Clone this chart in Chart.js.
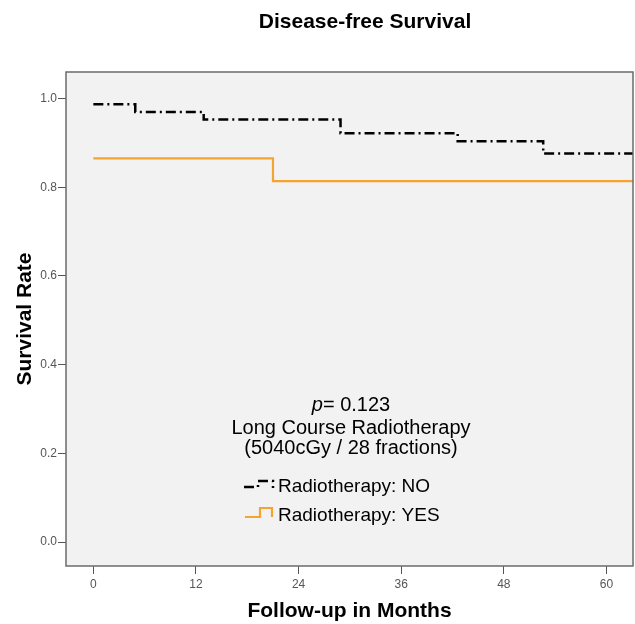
<!DOCTYPE html>
<html>
<head>
<meta charset="utf-8">
<script src="https://cdn.jsdelivr.net/npm/chart.js@4.4.1/dist/chart.umd.min.js"></script>
<style>
  body { margin: 0; background: #fff; }
</style>
</head>
<body>
<canvas id="kmChart" width="635" height="624"></canvas>
<script>
// Kaplan-Meier: tiempo del evento (meses) y supervivencia tras el evento
const noMonths = [0, 4.9, 12.9, 28.9, 42.6, 52.6, 63.2];
const noSurvival = [0.987, 0.970, 0.953, 0.922, 0.904, 0.876, 0.876];
const yesMonths = [0, 21.0, 63.2];
const yesSurvival = [0.865, 0.814, 0.814];

const monthTicks = [0, 12, 24, 36, 48, 60];
const rateTicks = [0, 0.2, 0.4, 0.6, 0.8, 1.0];
const seriesNames = ['Radiotherapy: NO', 'Radiotherapy: YES'];
const pValue = '0.123';

const FONT = "'Liberation Sans', Arial, sans-serif";
const ORANGE = '#f6a431';
const DASH = [10, 4, 2, 4];

function toPoints(xs, ys) {
  return xs.map((x, i) => ({ x: x, y: ys[i] }));
}

// Fondo gris del área, marco y todos los textos
const decor = {
  id: 'decor',
  beforeDraw(chart) {
    const { ctx, chartArea: a } = chart;
    ctx.save();
    ctx.fillStyle = '#f2f2f2';
    ctx.fillRect(a.left, a.top, a.right - a.left, a.bottom - a.top);
    ctx.restore();
  },
  afterDraw(chart) {
    const { ctx, chartArea: a } = chart;
    ctx.save();
    ctx.strokeStyle = '#6b6b6b';
    ctx.lineWidth = 1.5;
    ctx.strokeRect(a.left, a.top, a.right - a.left, a.bottom - a.top);

    ctx.fillStyle = '#000';
    ctx.textBaseline = 'middle';
    ctx.textAlign = 'center';

    // títulos
    ctx.font = 'bold 21px ' + FONT;
    ctx.fillText('Disease-free Survival', 365, 22);
    ctx.fillText('Follow-up in Months', (a.left + a.right) / 2, 611);
    ctx.save();
    ctx.translate(25, 319);
    ctx.rotate(-Math.PI / 2);
    ctx.fillText('Survival Rate', 0, 0);
    ctx.restore();

    // valor p
    const cx = 351;
    ctx.textAlign = 'left';
    ctx.font = 'italic 20px ' + FONT;
    const wp = ctx.measureText('p').width;
    ctx.font = '20px ' + FONT;
    const rest = '= ' + pValue;
    const wr = ctx.measureText(rest).width;
    let x0 = cx - (wp + wr) / 2;
    ctx.font = 'italic 20px ' + FONT;
    ctx.fillText('p', x0, 405);
    ctx.font = '20px ' + FONT;
    ctx.fillText(rest, x0 + wp, 405);

    ctx.textAlign = 'center';
    ctx.fillText('Long Course Radiotherapy', cx, 428);
    ctx.fillText('(5040cGy / 28 fractions)', cx, 448);

    // leyenda
    ctx.textAlign = 'left';
    ctx.font = '19px ' + FONT;
    ctx.fillText(seriesNames[0], 278, 487);
    ctx.fillText(seriesNames[1], 278, 516);

    ctx.lineJoin = 'miter';
    ctx.strokeStyle = '#000';
    ctx.lineWidth = 2.5;
    ctx.setLineDash(DASH);
    ctx.beginPath();
    ctx.moveTo(244, 487); ctx.lineTo(258, 487); ctx.lineTo(258, 481);
    ctx.lineTo(273, 481); ctx.lineTo(273, 488);
    ctx.stroke();

    ctx.setLineDash([]);
    ctx.strokeStyle = ORANGE;
    ctx.lineWidth = 2.2;
    ctx.beginPath();
    ctx.moveTo(245, 517); ctx.lineTo(260, 517); ctx.lineTo(260, 508);
    ctx.lineTo(272, 508); ctx.lineTo(272, 517);
    ctx.stroke();
    ctx.restore();
  }
};

new Chart(document.getElementById('kmChart'), {
  type: 'line',
  data: {
    datasets: [
      {
        label: seriesNames[0],
        data: toPoints(noMonths, noSurvival),
        borderColor: '#000',
        borderWidth: 2.5,
        borderDash: DASH,
        stepped: true,
        pointRadius: 0
      },
      {
        label: seriesNames[1],
        data: toPoints(yesMonths, yesSurvival),
        borderColor: ORANGE,
        borderWidth: 2.2,
        stepped: true,
        pointRadius: 0
      }
    ]
  },
  options: {
    responsive: false,
    animation: false,
    layout: { padding: { top: 72, right: 2, left: 0, bottom: 0 } },
    plugins: {
      legend: { display: false },
      tooltip: { enabled: false }
    },
    scales: {
      x: {
        type: 'linear',
        min: -3.2,
        max: 63.1,
        afterFit: s => { s.height = 58; },
        afterBuildTicks: s => { s.ticks = monthTicks.map(v => ({ value: v })); },
        grid: { drawOnChartArea: false, drawTicks: true, tickLength: 8, color: '#555' },
        border: { display: false },
        ticks: { color: '#555', padding: 3, font: { family: FONT, size: 12 }, maxRotation: 0 }
      },
      y: {
        min: -0.054,
        max: 1.06,
        afterFit: s => { s.width = 66; },
        afterBuildTicks: s => { s.ticks = rateTicks.map(v => ({ value: v })); },
        grid: { drawOnChartArea: false, drawTicks: true, tickLength: 8, color: '#555' },
        border: { display: false },
        ticks: {
          color: '#555',
          padding: 1,
          font: { family: FONT, size: 12 },
          callback: v => Number(v).toFixed(1)
        }
      }
    }
  },
  plugins: [decor]
});
</script>
</body>
</html>
